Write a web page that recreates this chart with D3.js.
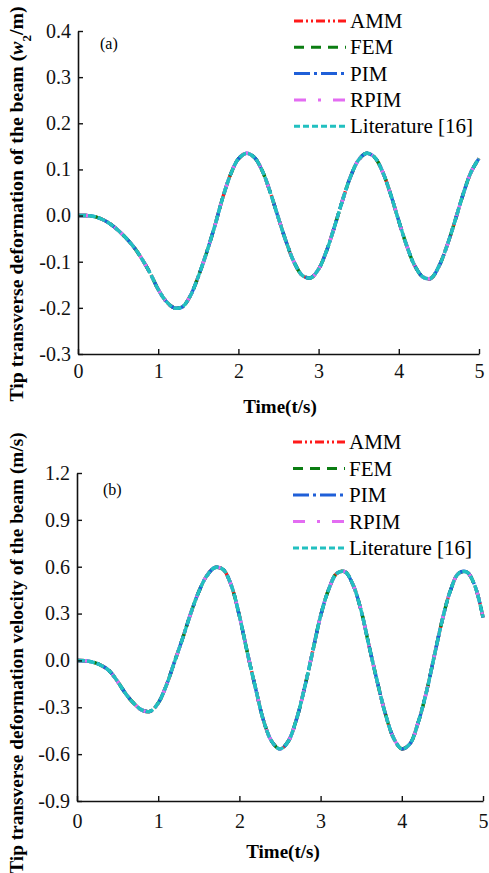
<!DOCTYPE html>
<html>
<head>
<meta charset="utf-8">
<script src="https://cdn.jsdelivr.net/npm/d3@7"></script>
<style>
  body { margin: 0; background: #fff; }
  svg { display: block; }
</style>
</head>
<body>
<svg width="489" height="873"></svg>
<script>
// time samples (s)
const time = [0.0,0.1,0.2,0.3,0.4,0.5,0.6,0.7,0.8,0.9,
              1.0,1.1,1.2,1.3,1.4,1.5,1.6,1.7,1.8,1.9,
              2.0,2.1,2.2,2.3,2.4,2.5,2.6,2.7,2.8,2.9,
              3.0,3.1,3.2,3.3,3.4,3.5,3.6,3.7,3.8,3.9,
              4.0,4.1,4.2,4.3,4.4,4.5,4.6,4.7,4.8,4.9,5.0];

// tip deflection w2 (m)
const deflection = [0,0,-0.002,-0.008,-0.018,-0.032,-0.049,-0.069,-0.095,-0.125,
                    -0.160,-0.186,-0.200,-0.198,-0.174,-0.132,-0.082,-0.026,0.036,0.088,
                    0.123,0.135,0.126,0.096,0.049,-0.006,-0.059,-0.103,-0.130,-0.135,
                    -0.116,-0.076,-0.023,0.034,0.085,0.121,0.135,0.126,0.094,0.045,
                    -0.012,-0.066,-0.109,-0.133,-0.136,-0.110,-0.066,-0.012,0.045,0.094,0.124];

// tip velocity (m/s)
const velocity = [0,-0.002,-0.012,-0.032,-0.068,-0.135,-0.213,-0.275,-0.318,-0.326,
                  -0.273,-0.160,-0.010,0.140,0.300,0.440,0.543,0.595,0.582,0.480,
                  0.285,0.045,-0.180,-0.390,-0.520,-0.567,-0.519,-0.382,-0.181,0.052,
                  0.285,0.455,0.558,0.568,0.483,0.317,0.085,-0.140,-0.346,-0.498,
                  -0.566,-0.534,-0.400,-0.209,0.029,0.262,0.449,0.558,0.566,0.478,0.275];

const methods = ["AMM", "FEM", "PIM", "RPIM", "Literature [16]"];
const xTicks = [0, 1, 2, 3, 4, 5];
const deflTicks = [-0.3, -0.2, -0.1, 0.0, 0.1, 0.2, 0.3, 0.4];
const velTicks = [-0.9, -0.6, -0.3, 0.0, 0.3, 0.6, 0.9, 1.2];

// all five methods overlap in the figure
const deflSeries = { "AMM": deflection, "FEM": deflection, "PIM": deflection, "RPIM": deflection, "Literature [16]": deflection };
const velSeries  = { "AMM": velocity, "FEM": velocity, "PIM": velocity, "RPIM": velocity, "Literature [16]": velocity };

const colour = { "AMM": "#ff1a1a", "FEM": "#0b7d12", "PIM": "#1f5fd8", "RPIM": "#e36cf2", "Literature [16]": "#22c0c0" };
const dash = { "AMM": "9,3,2,3,2,3", "FEM": "10,7", "PIM": "16,4,3,4", "RPIM": "12,12,3,12", "Literature [16]": "6,3" };
const curveDash = { "AMM": "9,3,2,3,2,3", "FEM": "10,7", "PIM": "16,4,3,4", "RPIM": "12,12,3,12", "Literature [16]": "8,2" };

const serif = "Liberation Serif, Times New Roman, Nimbus Roman, DejaVu Serif, serif";
const svg = d3.select("svg").attr("font-family", serif);

function panel(o) {
  const x = d3.scaleLinear().domain([0, 5]).range(o.xr);
  const y = d3.scaleLinear().domain(o.yd).range(o.yr);

  const line = d3.line()
    .x((d, i) => x(time[i]))
    .y(d => y(d))
    .curve(d3.curveCatmullRom);

  // curves
  methods.forEach(m => {
    svg.append("path")
      .attr("d", line(o.series[m]))
      .attr("fill", "none")
      .attr("stroke", colour[m])
      .attr("stroke-width", 3.4)
      .attr("stroke-dasharray", curveDash[m]);
  });

  // axes
  const gx = svg.append("g")
    .attr("transform", `translate(0,${o.yr[0]})`)
    .call(d3.axisBottom(x).tickValues(xTicks).tickSizeInner(-5).tickSizeOuter(0)
      .tickPadding(o.xpad).tickFormat(d => d));
  const gy = svg.append("g")
    .attr("transform", `translate(${o.xr[0]},0)`)
    .call(d3.axisLeft(y).tickValues(o.yt).tickSizeInner(-5).tickSizeOuter(0)
      .tickPadding(7).tickFormat(d => d.toFixed(1)));
  [gx, gy].forEach(g => {
    g.attr("font-family", serif).attr("font-size", 20);
    g.select(".domain").attr("stroke", "#111").attr("stroke-width", 1.6);
    g.selectAll(".tick line").attr("stroke", "#111").attr("stroke-width", 1.4);
    g.selectAll("text").attr("fill", "#111");
  });

  svg.append("text")
    .attr("x", o.xtitle[0]).attr("y", o.xtitle[1])
    .attr("text-anchor", "middle")
    .attr("font-size", 19).attr("font-weight", "bold")
    .text("Time(t/s)");

  const yt = svg.append("text")
    .attr("transform", `translate(${o.ytitle[0]},${o.ytitle[1]}) rotate(-90)`)
    .attr("text-anchor", "middle")
    .attr("font-size", o.ysize).attr("font-weight", "bold");
  o.ylabel(yt);

  svg.append("text")
    .attr("x", o.tag[0]).attr("y", o.tag[1])
    .attr("font-size", 16)
    .text(o.tagText);

  // legend
  methods.forEach((m, i) => {
    const ly = o.leg[1] + i * o.leg[2];
    svg.append("line")
      .attr("x1", o.leg[0]).attr("x2", o.leg[0] + 52)
      .attr("y1", ly).attr("y2", ly)
      .attr("stroke", colour[m])
      .attr("stroke-width", 3)
      .attr("stroke-dasharray", dash[m]);
    svg.append("text")
      .attr("x", o.leg[0] + 56).attr("y", ly)
      .attr("dy", "0.34em")
      .attr("font-size", 21)
      .text(m);
  });
}

panel({
  series: deflSeries,
  xr: [78, 479], yr: [354, 31], yd: [-0.3, 0.4], yt: deflTicks,
  xpad: 10, xtitle: [280, 413], ytitle: [23, 204], ysize: 19.8,
  tag: [100, 49], tagText: "(a)", leg: [294, 21, 26.3],
  ylabel: t => {
    t.append("tspan").text("Tip transverse deformation of the beam (");
    t.append("tspan").attr("font-style", "italic").text("w");
    t.append("tspan").attr("baseline-shift", "sub").attr("font-size", 13).text("2");
    t.append("tspan").text("/m)");
  }
});

panel({
  series: velSeries,
  xr: [77, 483], yr: [801, 473], yd: [-0.9, 1.2], yt: velTicks,
  xpad: 13, xtitle: [283, 858], ytitle: [23, 653], ysize: 19.3,
  tag: [103, 495], tagText: "(b)", leg: [293, 442, 26.5],
  ylabel: t => t.text("Tip transverse deformation velocity of the beam (m/s)")
});
</script>
</body>
</html>
